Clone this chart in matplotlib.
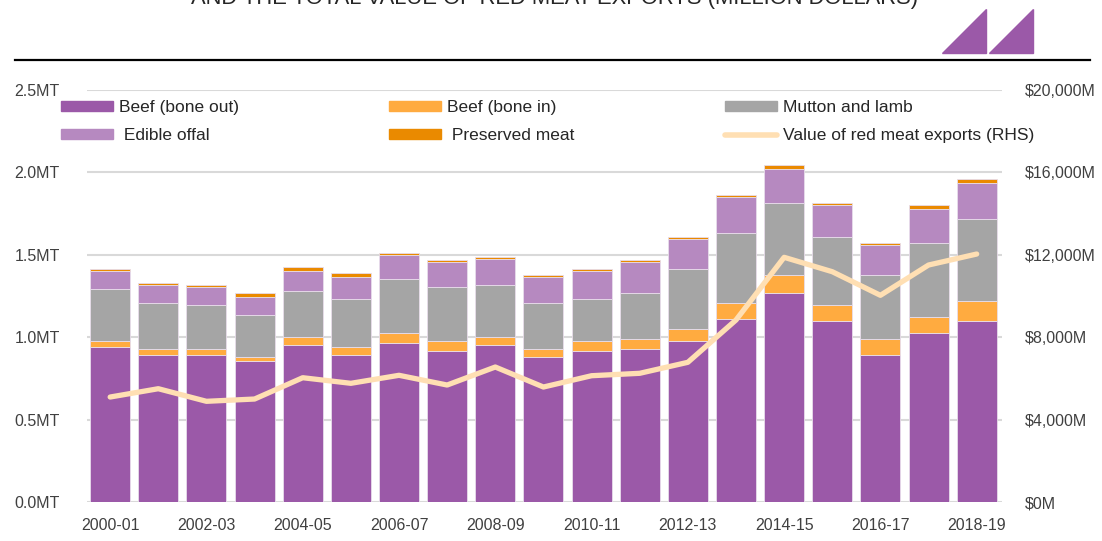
import matplotlib.pyplot as plt
import numpy as np
from matplotlib.lines import Line2D
from matplotlib.patches import Polygon, Patch

plt.rcParams['font.family'] = ['Liberation Sans', 'DejaVu Sans']

years = ["2000-01", "2001-02", "2002-03", "2003-04", "2004-05", "2005-06", "2006-07",
         "2007-08", "2008-09", "2009-10", "2010-11", "2011-12", "2012-13", "2013-14",
         "2014-15", "2015-16", "2016-17", "2017-18", "2018-19"]

# million tonnes
beef_bone_out = [0.941, 0.893, 0.893, 0.856, 0.953, 0.893, 0.965, 0.917, 0.953, 0.880,
                 0.917, 0.929, 0.978, 1.111, 1.268, 1.099, 0.893, 1.026, 1.099]
beef_bone_in = [0.037, 0.036, 0.036, 0.027, 0.049, 0.050, 0.061, 0.061, 0.046, 0.049,
                0.061, 0.061, 0.072, 0.097, 0.109, 0.097, 0.097, 0.097, 0.121]
mutton_lamb = [0.313, 0.281, 0.267, 0.254, 0.279, 0.289, 0.328, 0.327, 0.318, 0.281,
               0.254, 0.278, 0.364, 0.424, 0.437, 0.412, 0.387, 0.448, 0.497]
edible_offal = [0.110, 0.107, 0.109, 0.107, 0.121, 0.133, 0.145, 0.151, 0.157, 0.155,
                0.170, 0.188, 0.182, 0.219, 0.206, 0.194, 0.182, 0.207, 0.218]
preserved_meat = [0.013, 0.012, 0.012, 0.024, 0.024, 0.025, 0.012, 0.012, 0.012, 0.012,
                  0.012, 0.012, 0.012, 0.011, 0.024, 0.012, 0.012, 0.024, 0.024]

# million dollars
export_value = [5105, 5508, 4897, 5008, 6041, 5770, 6158, 5687, 6560, 5590,
                6138, 6255, 6788, 8839, 11879, 11181, 10036, 11505, 12038]

c_out = "#9B59A8"
c_in = "#FFAB40"
c_mut = "#A5A5A5"
c_off = "#B689C0"
c_pres = "#EA8A00"
c_line = "#FFDFB3"

fig = plt.figure(figsize=(11.02, 5.41), dpi=100)
ax = fig.add_axes([0.079, 0.0715, 0.83, 0.7625])

x = np.arange(len(years))
w = 0.83
bottom = np.zeros(len(years))
for vals, col in [(beef_bone_out, c_out), (beef_bone_in, c_in), (mutton_lamb, c_mut),
                  (edible_offal, c_off), (preserved_meat, c_pres)]:
    ax.bar(x, vals, w, bottom=bottom, color=col, edgecolor="#E8DDEB", linewidth=0.6, zorder=2)
    bottom += np.array(vals)

ax.set_xlim(-0.48, 18.52)
ax.set_ylim(0, 2.5)
ax.set_yticks(np.arange(0, 2.51, 0.5))
ax.set_yticklabels([f"{v:.1f}MT" for v in np.arange(0, 2.51, 0.5)])
ax.set_xticks(x[::2])
ax.set_xticklabels(years[::2])
ax.grid(axis="y", color="#D9D9D9", linewidth=1.5, zorder=0)
ax.set_axisbelow(True)
for s in ax.spines.values():
    s.set_visible(False)
ax.tick_params(axis="y", length=0, pad=19.5, labelsize=11.5, labelcolor="#404040")
ax.tick_params(axis="x", length=0, pad=11, labelsize=11.5, labelcolor="#404040")

ax2 = ax.twinx()
ax2.plot(x, export_value, color=c_line, linewidth=3.8, solid_capstyle="round",
         solid_joinstyle="round", zorder=5)
ax2.set_ylim(0, 20000)
ax2.set_yticks(np.arange(0, 20001, 4000))
ax2.set_yticklabels(["$0M"] + [f"${v:,}M" for v in range(4000, 20001, 4000)])
for s in ax2.spines.values():
    s.set_visible(False)
ax2.tick_params(axis="y", length=0, pad=16.5, labelsize=11.5, labelcolor="#404040")

handles = [
    Patch(color=c_out), Patch(color=c_off),
    Patch(color=c_in), Patch(color=c_pres),
    Patch(color=c_mut), Line2D([], [], color=c_line, linewidth=4, solid_capstyle="round"),
]
labels = ["Beef (bone out)", " Edible offal", "Beef (bone in)", " Preserved meat",
          "Mutton and lamb", "Value of red meat exports (RHS)"]
leg = fig.legend(handles, labels, ncol=3, loc="upper left", mode="expand",
                 bbox_to_anchor=(0.052, 0.721, 0.890, 0.1), frameon=False,
                 fontsize=12.5, handlelength=3.0, handleheight=0.55, handletextpad=0.35,
                 labelspacing=0.75, borderpad=0.2, borderaxespad=0)
for t in leg.get_texts():
    t.set_color("#262626")

# header: cut title, rule and logo
fig.text(0.503, 1 - 4 / 541, "AND THE TOTAL VALUE OF RED MEAT EXPORTS (MILLION DOLLARS)",
         ha="center", va="baseline", fontsize=15.8, color="#262626")
fig.add_artist(Line2D([15 / 1102, 1090 / 1102], [1 - 60 / 541, 1 - 60 / 541],
                      color="black", linewidth=1.6, transform=fig.transFigure))
for x0 in (942, 989):
    tri = [(x0 / 1102, 1 - 53 / 541), ((x0 + 44) / 1102, 1 - 53 / 541),
           ((x0 + 44) / 1102, 1 - 9 / 541)]
    fig.add_artist(Polygon(tri, closed=True, color=c_out, transform=fig.transFigure))

fig.savefig("out.png", dpi=100)
